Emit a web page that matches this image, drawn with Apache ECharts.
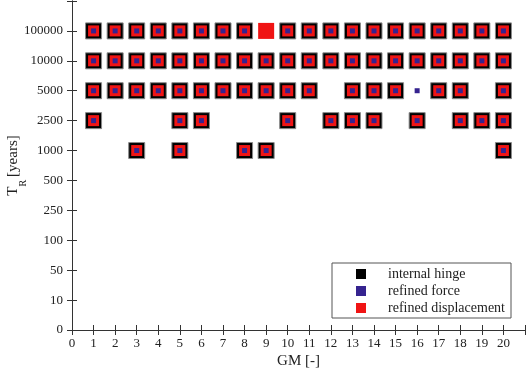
<!DOCTYPE html>
<html><head><meta charset="utf-8">
<script src="https://cdn.jsdelivr.net/npm/echarts@6/dist/echarts.min.js"></script>
<style>html,body{margin:0;padding:0;background:#fff}#c{width:526px;height:370px}</style>
</head><body><div id="c"></div>
<script>
const yLabels = ['0','10','50','100','250','500','1000','2500','5000','10000','100000',''];
const xTicks = [0,1,2,3,4,5,6,7,8,9,10,11,12,13,14,15,16,17,18,19,20];

// GM numbers present per return period
const hinge_100000 = [1,2,3,4,5,6,7,8,10,11,12,13,14,15,16,17,18,19,20];
const hinge_10000  = [1,2,3,4,5,6,7,8,9,10,11,12,13,14,15,16,17,18,19,20];
const hinge_5000   = [1,2,3,4,5,6,7,8,9,10,11,13,14,15,17,18,20];
const hinge_2500   = [1,5,6,10,12,13,14,16,18,19,20];
const hinge_1000   = [3,5,8,9,20];

const force_100000 = [1,2,3,4,5,6,7,8,10,11,12,13,14,15,16,17,18,19,20];
const force_10000  = [1,2,3,4,5,6,7,8,9,10,11,12,13,14,15,16,17,18,19,20];
const force_5000   = [1,2,3,4,5,6,7,8,9,10,11,13,14,15,16,17,18,20];
const force_2500   = [1,5,6,10,12,13,14,16,18,19,20];
const force_1000   = [3,5,8,9,20];

const disp_100000 = [1,2,3,4,5,6,7,8,9,10,11,12,13,14,15,16,17,18,19,20];
const disp_10000  = [1,2,3,4,5,6,7,8,9,10,11,12,13,14,15,16,17,18,19,20];
const disp_5000   = [1,2,3,4,5,6,7,8,9,10,11,13,14,15,17,18,20];
const disp_2500   = [1,5,6,10,12,13,14,16,18,19,20];
const disp_1000   = [3,5,8,9,20];

function build(rows) {
  const out = [];
  for (const [label, arr] of rows) {
    const yi = yLabels.indexOf(label);
    for (const g of arr) out.push([g, yi]);
  }
  return out;
}
const hingeData = build([['100000',hinge_100000],['10000',hinge_10000],['5000',hinge_5000],['2500',hinge_2500],['1000',hinge_1000]]);
const forceData = build([['100000',force_100000],['10000',force_10000],['5000',force_5000],['2500',force_2500],['1000',force_1000]]);
const dispData  = build([['100000',disp_100000],['10000',disp_10000],['5000',disp_5000],['2500',disp_2500],['1000',disp_1000]]);
const hingeSet = new Set(hingeData.map(d => d[0] + '_' + d[1]));

const FONT = 'Liberation Serif';
const chart = echarts.init(document.getElementById('c'), null, {renderer: 'canvas'});

const axisCommon = {
  type: 'value', min: 0, interval: 1,
  axisLine: {show: true, lineStyle: {color: '#333', width: 1}},
  axisTick: {show: true, inside: true, length: 5, lineStyle: {color: '#333'}},
  splitLine: {show: false},
};

chart.setOption({
  animation: false,
  backgroundColor: '#fff',
  grid: {left: 72, right: 1, top: 1, bottom: 40, containLabel: false, outerBoundsMode: 'none'},
  xAxis: [
    Object.assign({}, axisCommon, {position: 'bottom', max: 21,
      name: 'GM [-]', nameLocation: 'middle', nameGap: 24, nameMoveOverlap: false,
      nameTextStyle: {fontFamily: FONT, fontSize: 15, color: '#222'},
      axisLabel: {color: '#222', fontFamily: FONT, fontSize: 13, margin: 7,
        formatter: v => (xTicks.indexOf(v) >= 0 ? String(v) : '')}}),
    Object.assign({}, axisCommon, {position: 'top', max: 21, axisLabel: {show: false}})
  ],
  yAxis: [
    Object.assign({}, axisCommon, {position: 'left', max: 11,
      name: '{t|T}{s|R} {t|[years]}', nameLocation: 'middle', nameGap: 44, nameRotate: 90, nameMoveOverlap: false,
      nameTextStyle: {color: '#222', fontFamily: FONT,
        rich: {t: {fontFamily: FONT, fontSize: 15, color: '#222', verticalAlign: 'top', lineHeight: 15},
               s: {fontFamily: FONT, fontSize: 10, color: '#222', verticalAlign: 'bottom', lineHeight: 22}}},
      axisLabel: {color: '#222', fontFamily: FONT, fontSize: 13, margin: 9,
        formatter: v => yLabels[v] || ''}}),
    Object.assign({}, axisCommon, {position: 'right', max: 11, axisLabel: {show: false}})
  ],
  legend: {
    orient: 'vertical', left: 332, top: 263,
    backgroundColor: '#fff',
    borderColor: '#555', borderWidth: 1,
    padding: [4, 6, 3, 24],
    itemGap: 3, itemWidth: 10, itemHeight: 10,
    icon: 'rect',
    itemStyle: {borderWidth: 0},
    textStyle: {fontFamily: FONT, fontSize: 14, lineHeight: 14, color: '#222', padding: [0, 0, 0, 17]},
    data: ['internal hinge', 'refined force', 'refined displacement']
  },
  series: [
    {name: 'internal hinge', type: 'scatter', symbol: 'rect', symbolSize: 16,
      itemStyle: {color: '#000', borderColor: '#8a8a8a', borderWidth: 1, opacity: 1},
      data: hingeData, z: 2},
    {name: 'refined displacement', type: 'scatter', symbol: 'rect',
      symbolSize: (v) => hingeSet.has(v[0] + '_' + v[1]) ? 11 : 16,
      itemStyle: {color: '#f01414', opacity: 1},
      data: dispData, z: 3},
    {name: 'refined force', type: 'scatter', symbol: 'rect', symbolSize: 5,
      itemStyle: {color: '#35238f', opacity: 1},
      data: forceData, z: 4}
  ]
});
</script></body></html>
